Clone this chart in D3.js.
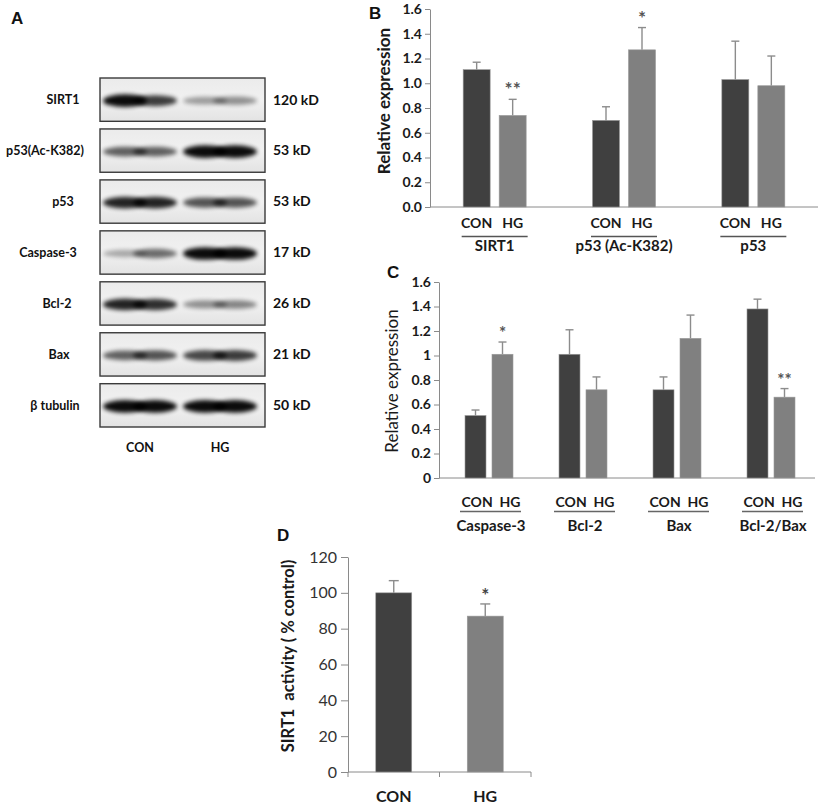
<!DOCTYPE html>
<html lang="en">
  <head>
    <meta charset="UTF-8" />
    <title>SIRT1 / p53 western blot figure</title>
    <script src="https://d3js.org/d3.v7.min.js"></script>
    <style>
      body { margin: 0; background: #fff; }
      svg { display: block; font-family: Lato, "Open Sans", sans-serif; }
    </style>
  </head>
  <body>
    <svg width="820" height="805"></svg>
    <script>
      // ---- panel A : blots ----
      const lanes = ["CON", "HG"];
      const blotProteins = ["SIRT1", "p53(Ac-K382)", "p53", "Caspase-3", "Bcl-2", "Bax", "β tubulin"];
      const blotSizes = ["120 kD", "53 kD", "53 kD", "17 kD", "26 kD", "21 kD", "50 kD"];
      // band darkness, [left half, right half] of each lane
      const bandCON = [[0.95, 0.75], [0.6, 0.6], [0.85, 0.85], [0.3, 0.55], [0.85, 0.8], [0.6, 0.65], [0.95, 0.95]];
      const bandHG = [[0.35, 0.4], [0.95, 0.95], [0.65, 0.65], [0.95, 0.95], [0.4, 0.45], [0.7, 0.75], [0.95, 0.95]];

      // ---- panel B ----
      const bGroups = ["SIRT1", "p53 (Ac-K382)", "p53"];
      const bCON = [1.11, 0.70, 1.03];
      const bCONerr = [0.06, 0.11, 0.31];
      const bHG = [0.74, 1.27, 0.98];
      const bHGerr = [0.13, 0.18, 0.24];
      const bStars = ["**", "*", ""];
      const bTicks = [0, 0.2, 0.4, 0.6, 0.8, 1.0, 1.2, 1.4, 1.6];

      // ---- panel C ----
      const cGroups = ["Caspase-3", "Bcl-2", "Bax", "Bcl-2/Bax"];
      const cCON = [0.51, 1.01, 0.72, 1.38];
      const cCONerr = [0.045, 0.2, 0.105, 0.08];
      const cHG = [1.01, 0.72, 1.14, 0.66];
      const cHGerr = [0.1, 0.105, 0.19, 0.07];
      const cStars = ["*", "", "", "**"];
      const cTicks = [0, 0.2, 0.4, 0.6, 0.8, 1, 1.2, 1.4, 1.6];

      // ---- panel D ----
      const dCats = ["CON", "HG"];
      const dVals = [100, 87];
      const dErr = [6.8, 6.8];
      const dStars = ["", "*"];
      const dTicks = [0, 20, 40, 60, 80, 100, 120];

      const darkBar = "#404040", lightBar = "#808080", errCol = "#8c8c8c", axisCol = "#8a8a8a";

      let svg = d3.select("svg");
      let defs = svg.append("defs");
      defs.append("filter").attr("id", "blur")
        .attr("x", "-50%").attr("y", "-100%").attr("width", "200%").attr("height", "300%")
        .append("feGaussianBlur").attr("stdDeviation", 2);
      let grad = defs.append("linearGradient").attr("id", "blotbg")
        .attr("x1", 0).attr("x2", 0).attr("y1", 0).attr("y2", 1);
      grad.append("stop").attr("offset", "0%").attr("stop-color", "#ebebeb");
      grad.append("stop").attr("offset", "50%").attr("stop-color", "#f1f1f1");
      grad.append("stop").attr("offset", "100%").attr("stop-color", "#e3e3e3");

      function letter(t, x, y) {
        svg.append("text").attr("x", x).attr("y", y).text(t)
          .style("font-family", "'Liberation Sans', Arial, sans-serif")
          .style("font-weight", "bold").style("font-size", "17px").attr("fill", "#111");
      }

      // ================= A =================
      letter("A", 11, 24);
      let rowY = d3.scaleBand().domain(blotProteins).range([78, 427]).paddingInner(0.15);
      let laneX = d3.scalePoint().domain(lanes).range([100, 260]).padding(0.5);
      let labelX = { "SIRT1": 63, "p53(Ac-K382)": 45, "p53": 63, "Caspase-3": 48, "Bcl-2": 57, "Bax": 59, "β tubulin": 55 };

      let rows = svg.append("g").selectAll("g").data(blotProteins).enter().append("g")
        .attr("transform", (d) => "translate(0," + rowY(d) + ")");
      rows.append("rect").attr("x", 100).attr("width", 165).attr("height", rowY.bandwidth())
        .attr("fill", "url(#blotbg)").attr("stroke", "#3a3a3a").attr("stroke-width", 1.4);
      rows.each(function (d, i) {
        let g = d3.select(this);
        let cy = rowY.bandwidth() / 2 + 1;
        [bandCON[i], bandHG[i]].forEach((band, li) => {
          let cx = laneX(lanes[li]);
          band.forEach((v, k) => {
            g.append("ellipse")
              .attr("cx", cx + (k === 0 ? -15 : 15)).attr("cy", cy)
              .attr("rx", 22).attr("ry", 2.5 + 4 * v)
              .attr("fill", "#000").attr("opacity", v)
              .attr("filter", "url(#blur)");
          });
        });
      });
      rows.append("text").attr("x", (d) => labelX[d]).attr("y", rowY.bandwidth() / 2)
        .attr("dy", "0.35em").attr("text-anchor", "middle").text((d) => d)
        .style("font-weight", "bold").style("font-size", "12.5px").attr("fill", "#111");
      rows.append("text").attr("x", 273).attr("y", rowY.bandwidth() / 2)
        .attr("dy", "0.35em").text((d, i) => blotSizes[i])
        .style("font-weight", "bold").style("font-size", "14px").attr("fill", "#111");
      svg.append("g").selectAll("text").data(lanes).enter().append("text")
        .attr("x", (d) => laneX(d)).attr("y", 452).attr("text-anchor", "middle").text((d) => d)
        .style("font-weight", "bold").style("font-size", "12.5px").attr("fill", "#111");

      // ========== shared bar drawing ==========
      function drawBars(g, x, inner, y, groups, con, conErr, hg, hgErr, stars, starSize) {
        groups.forEach((grp, i) => {
          let base = x(grp) + x.bandwidth() / 2;
          [[con[i], conErr[i], darkBar, "CON"], [hg[i], hgErr[i], lightBar, "HG"]].forEach((b) => {
            let bx = base + inner(b[3]);
            let w = inner.bandwidth();
            g.append("line").attr("x1", bx + w / 2).attr("x2", bx + w / 2)
              .attr("y1", y(b[0])).attr("y2", y(b[0] + b[1]))
              .attr("stroke", errCol).attr("stroke-width", 1.4);
            g.append("line").attr("x1", bx + w / 2 - 4).attr("x2", bx + w / 2 + 4)
              .attr("y1", y(b[0] + b[1])).attr("y2", y(b[0] + b[1]))
              .attr("stroke", errCol).attr("stroke-width", 1.4);
            g.append("rect").attr("x", bx).attr("width", w)
              .attr("y", y(b[0])).attr("height", y(0) - y(b[0]))
              .attr("fill", b[2]).attr("stroke", "#9a9a9a").attr("stroke-width", 0.6);
          });
          if (stars[i]) {
            let bx = base + inner("HG") + inner.bandwidth() / 2;
            g.append("text").attr("x", bx).attr("y", y(hg[i] + hgErr[i]) - 3)
              .attr("text-anchor", "middle").text(stars[i])
              .style("font-size", starSize).style("font-weight", "bold").attr("fill", "#555");
          }
        });
      }

      function styleAxis(ax, size, weight) {
        ax.selectAll("path, line").attr("stroke", axisCol);
        ax.selectAll("text").style("font-size", size).style("font-weight", weight)
          .attr("fill", "#1a1a1a").style("font-family", "Lato, 'Open Sans', sans-serif");
      }

      // ================= B =================
      letter("B", 369, 19);
      let gB = svg.append("g");
      let yB = d3.scaleLinear().domain([0, 1.6]).range([207, 9]);
      let xB = d3.scaleBand().domain(bGroups).range([430, 818]);
      let inB = d3.scaleBand().domain(lanes).range([-31.5, 31.5]).paddingInner(0.25);
      let axB = gB.append("g").attr("transform", "translate(430,0)")
        .call(d3.axisLeft(yB).tickValues(bTicks).tickFormat(d3.format(".1f")).tickSize(5).tickSizeOuter(0));
      styleAxis(axB, "14px", "bold");
      gB.append("line").attr("x1", 430).attr("x2", 818).attr("y1", yB(0)).attr("y2", yB(0))
        .attr("stroke", axisCol);
      drawBars(gB, xB, inB, yB, bGroups, bCON, bCONerr, bHG, bHGerr, bStars, "19px");
      gB.append("text").attr("transform", "translate(390,101) rotate(-90)")
        .attr("text-anchor", "middle").text("Relative expression")
        .style("font-weight", "bold").style("font-size", "17px").attr("fill", "#1a1a1a");
      bGroups.forEach((grp) => {
        let c = xB(grp) + xB.bandwidth() / 2;
        lanes.forEach((l) => {
          gB.append("text").attr("x", c + inB(l) + inB.bandwidth() / 2).attr("y", 228)
            .attr("text-anchor", "middle").text(l)
            .style("font-weight", "bold").style("font-size", "14px").attr("fill", "#1a1a1a");
        });
        gB.append("line").attr("x1", c - 33).attr("x2", c + 33).attr("y1", 236.5).attr("y2", 236.5)
          .attr("stroke", "#555").attr("stroke-width", 1.5);
        gB.append("text").attr("x", c).attr("y", 251).attr("text-anchor", "middle").text(grp)
          .style("font-weight", "bold").style("font-size", "15px").attr("fill", "#1a1a1a");
      });

      // ================= C =================
      letter("C", 387, 278);
      let gC = svg.append("g");
      let yC = d3.scaleLinear().domain([0, 1.6]).range([478, 282]);
      let xC = d3.scaleBand().domain(cGroups).range([442, 818]);
      let inC = d3.scaleBand().domain(lanes).range([-24, 24]).paddingInner(0.222);
      let axC = gC.append("g").attr("transform", "translate(439,0)")
        .call(d3.axisLeft(yC).tickValues(cTicks).tickFormat((d) => String(+d.toFixed(1))).tickSize(5).tickSizeOuter(0));
      styleAxis(axC, "14px", "bold");
      gC.append("line").attr("x1", 439).attr("x2", 815).attr("y1", yC(0)).attr("y2", yC(0))
        .attr("stroke", axisCol);
      drawBars(gC, xC, inC, yC, cGroups, cCON, cCONerr, cHG, cHGerr, cStars, "17px");
      gC.append("text").attr("transform", "translate(398,381) rotate(-90)")
        .attr("text-anchor", "middle").text("Relative expression")
        .style("font-size", "17px").attr("fill", "#1a1a1a");
      cGroups.forEach((grp) => {
        let c = xC(grp) + xC.bandwidth() / 2;
        gC.append("text").attr("x", c + 2).attr("y", 507).attr("text-anchor", "middle")
          .attr("xml:space", "preserve").text(lanes.join("  "))
          .style("font-weight", "bold").style("font-size", "14px").attr("fill", "#1a1a1a");
        gC.append("line").attr("x1", c - 29).attr("x2", c + 32).attr("y1", 511.5).attr("y2", 511.5)
          .attr("stroke", "#666").attr("stroke-width", 1.4);
        gC.append("text").attr("x", c + 2).attr("y", 531).attr("text-anchor", "middle").text(grp)
          .style("font-weight", "bold").style("font-size", "15px").attr("fill", "#1a1a1a");
      });

      // ================= D =================
      letter("D", 277, 541);
      let gD = svg.append("g");
      let yD = d3.scaleLinear().domain([0, 120]).range([772, 557]);
      let xD = d3.scaleBand().domain(dCats).range([348, 531]).paddingInner(0.607).paddingOuter(0.3035);
      let axD = gD.append("g").attr("transform", "translate(348,0)")
        .call(d3.axisLeft(yD).tickValues(dTicks).tickSize(7).tickSizeOuter(0).tickPadding(4));
      styleAxis(axD, "16px", "normal");
      axD.selectAll("text").attr("fill", "#333");
      gD.append("line").attr("x1", 348).attr("x2", 531).attr("y1", yD(0)).attr("y2", yD(0))
        .attr("stroke", axisCol);
      d3.range(dCats.length + 1).forEach((k) => {
        let tx = 348 + k * xD.step();
        gD.append("line").attr("x1", tx).attr("x2", tx).attr("y1", yD(0)).attr("y2", yD(0) + 5)
          .attr("stroke", axisCol);
      });
      dCats.forEach((cat, i) => {
        let bx = xD(cat), w = xD.bandwidth();
        gD.append("line").attr("x1", bx + w / 2).attr("x2", bx + w / 2)
          .attr("y1", yD(dVals[i])).attr("y2", yD(dVals[i] + dErr[i]))
          .attr("stroke", errCol).attr("stroke-width", 1.4);
        gD.append("line").attr("x1", bx + w / 2 - 5).attr("x2", bx + w / 2 + 5)
          .attr("y1", yD(dVals[i] + dErr[i])).attr("y2", yD(dVals[i] + dErr[i]))
          .attr("stroke", errCol).attr("stroke-width", 1.4);
        gD.append("rect").attr("x", bx).attr("width", w)
          .attr("y", yD(dVals[i])).attr("height", yD(0) - yD(dVals[i]))
          .attr("fill", i === 0 ? darkBar : lightBar).attr("stroke", "#9a9a9a").attr("stroke-width", 0.6);
        if (dStars[i]) {
          gD.append("text").attr("x", bx + w / 2).attr("y", yD(dVals[i] + dErr[i]) - 2)
            .attr("text-anchor", "middle").text(dStars[i])
            .style("font-size", "19px").style("font-weight", "bold").attr("fill", "#444");
        }
        gD.append("text").attr("x", bx + w / 2).attr("y", 802).attr("text-anchor", "middle").text(cat)
          .style("font-weight", "bold").style("font-size", "16px").attr("fill", "#1a1a1a");
      });
      gD.append("text").attr("transform", "translate(294,656) rotate(-90)")
        .attr("text-anchor", "middle").attr("xml:space", "preserve").text("SIRT1  activity ( % control)")
        .style("font-weight", "bold").style("font-size", "16.5px").attr("fill", "#1a1a1a");
    </script>
  </body>
</html>
